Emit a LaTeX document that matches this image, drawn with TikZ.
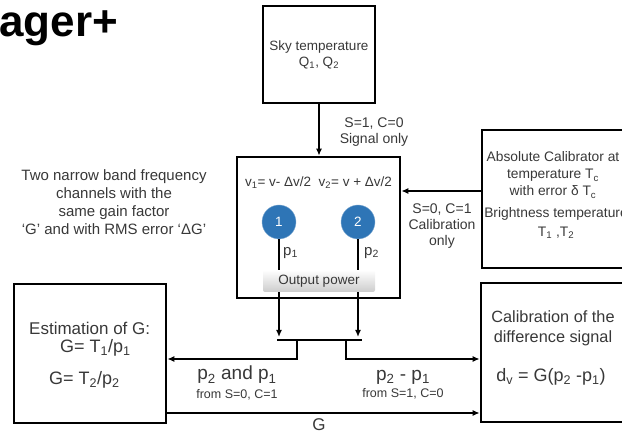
\documentclass[tikz,border=0pt]{standalone}
\usepackage{fontspec}
\setmainfont{Liberation Sans}
\usepackage{xcolor}
\usetikzlibrary{arrows.meta,positioning}
\definecolor{chanblue}{HTML}{2E75B6}
\definecolor{inkgray}{HTML}{383838}

\begin{document}
\begin{tikzpicture}[
  x=1pt, y=-1pt,
  font=\fontsize{13.5}{16}\selectfont,
  node distance=1pt,
  box/.style={draw, line width=2.6pt, align=center, text=inkgray},
  chan/.style={circle, fill=chanblue, draw=chanblue!60!white, thin,
               minimum size=34pt, inner sep=0pt, text=white},
  power/.style={rounded corners=2pt, top color=white, bottom color=gray!40,
                minimum width=112pt, minimum height=22pt, inner sep=0pt, text=inkgray},
  lbl/.style={align=center, text=inkgray, inner sep=0pt},
  big/.style={font=\fontsize{18}{21}\selectfont},
  small/.style={font=\fontsize{12.5}{14}\selectfont},
  wire/.style={line width=1.5pt},
  ar/.style={-{Latex[length=7pt,width=6pt]}, line width=1.5pt}
]
\clip (0,0) rectangle (622,435);

% title, cut by the left edge
\node[anchor=base west, inner sep=0pt, text=black,
      font=\fontsize{44}{44}\selectfont\bfseries] (title) at (-1,37) {ager+};

% top: sky source
\node[box, minimum width=112pt, minimum height=97pt] (sky) at (319,54.5)
  {Sky temperature\\Q\textsubscript{1}, Q\textsubscript{2}};

% middle: receiver with two channels
\node[box, minimum width=163pt, minimum height=141pt] (mid) at (318.5,227.5) {};
\node[lbl] (freq) at (318.5,183)
  {v\textsubscript{1}= v- Δv/2\ \ v\textsubscript{2}= v + Δv/2};
\node[chan] (ch1) at (279,222) {1};
\node[chan] (ch2) at (358,222) {2};
\node[power] (pow) at (319,281) {Output power};
\node[lbl, anchor=west, font=\fontsize{15}{17}\selectfont] (p1) at (283,253) {p\textsubscript{1}};
\node[lbl, anchor=west, font=\fontsize{15}{17}\selectfont] (p2) at (364,253) {p\textsubscript{2}};

% right: calibrator
\node[box, minimum width=160pt, minimum height=138pt] (cal) at (562,199) {};
\node[lbl, font=\fontsize{13.8}{17}\selectfont] (calA) at (553,175)
  {Absolute Calibrator at\\temperature T\textsubscript{c}\\with error δ T\textsubscript{c}};
\node[lbl, font=\fontsize{13.8}{19}\selectfont] (calB) at (556,223)
  {Brightness temperature\\T\textsubscript{1} ,T\textsubscript{2}};

% left note
\node[lbl, font=\fontsize{15}{18}\selectfont] (note) at (114,202)
  {Two narrow band frequency\\channels with the\\same gain factor\\‘G’ and with RMS error ‘ΔG’};

% bottom boxes
\node[box, minimum width=152pt, minimum height=139pt] (est) at (90,353.5) {};
\node[lbl, anchor=west, font=\fontsize{17}{20}\selectfont] (estA) at (29,328) {Estimation of G:};
\node[lbl, anchor=west, big] (estB) at (60,348) {G= T\textsubscript{1}/p\textsubscript{1}};
\node[lbl, anchor=west, big] (estC) at (49,380) {G= T\textsubscript{2}/p\textsubscript{2}};

\node[box, minimum width=160pt, minimum height=139pt] (diff) at (561,352.5) {};
\node[lbl, font=\fontsize{16.3}{20}\selectfont] (diffA) at (553,328)
  {Calibration of the\\difference signal};
\node[lbl, big] (diffB) at (551,377) {d\textsubscript{v} = G(p\textsubscript{2} -p\textsubscript{1})};

% connectors
\draw[ar] (sky.south) -- (sky.south |- mid.north);
\node[lbl, font=\fontsize{14}{16}\selectfont] (sig) at (374,132) {S=1, C=0\\Signal only};
\draw[ar] ([yshift=8pt]cal.west) -- ([yshift=8pt]cal.west -| mid.east);
\node[lbl, font=\fontsize{14}{16}\selectfont] (calsig) at (442,226) {S=0, C=1\\Calibration\\only};

\draw[wire] (ch1) -- (pow.north -| ch1);
\draw[wire] (ch2) -- (pow.north -| ch2);
\coordinate (tap1) at (279,337);
\coordinate (tap2) at (358,337);
\draw[ar] (pow.south -| ch1) -- (tap1);
\draw[ar] (pow.south -| ch2) -- (tap2);
\coordinate (busL) at (277,340);
\coordinate (busR) at (362,340);
\draw[wire] (busL) -- (busR);
\coordinate (dropL) at (297,340);
\coordinate (dropR) at (346,340);
\draw[ar] (dropL) |- ([yshift=-5.5pt]est.east);
\draw[ar] (dropR) |- ([yshift=-6.5pt]diff.west);
\coordinate (gout) at ([yshift=-59.5pt]est.east);
\draw[ar] (gout) -- (gout -| diff.west);

\node[lbl, font=\fontsize{19}{22}\selectfont] (pp) at (237,375) {p\textsubscript{2} and p\textsubscript{1}};
\node[lbl, small, below=5pt of pp] {from S=0, C=1};
\node[lbl, font=\fontsize{19}{22}\selectfont] (pd) at (403,377) {p\textsubscript{2} - p\textsubscript{1}};
\node[lbl, small, below=4pt of pd] {from S=1, C=0};
\node[lbl, font=\fontsize{17}{20}\selectfont] (gl) at (319,425) {G};
\end{tikzpicture}
\end{document}
